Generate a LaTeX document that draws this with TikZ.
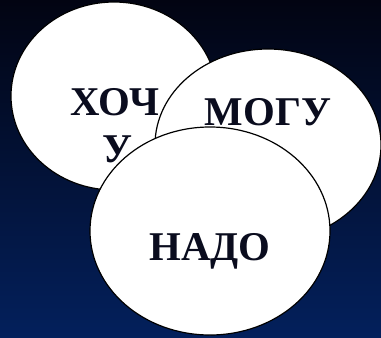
\documentclass[tikz,border=0pt]{standalone}
\usepackage{fontspec}
\setmainfont{Liberation Serif}
\usetikzlibrary{shapes.geometric}
\definecolor{bgtop}{RGB}{2,4,18}
\definecolor{bgbot}{RGB}{3,32,92}
\definecolor{txt}{RGB}{10,12,30}
\tikzset{
  oval/.style={ellipse, draw=black, line width=1.2bp, fill=white, inner sep=0pt},
  word/.style={anchor=base, inner sep=0pt, text=txt, font=\fontsize{41}{47}\selectfont\bfseries}
}
\begin{document}
\begin{tikzpicture}[x=1bp,y=-1bp]
\shade[top color=bgtop, bottom color=bgbot] (0,0) rectangle (381,338);
\useasboundingbox (0,0) rectangle (381,338);
\node[oval, minimum width=206bp, minimum height=188bp] (hochu) at (114,96) {};
\node[oval, minimum width=226bp, minimum height=192bp] (mogu) at (268,145) {};
\node[oval, minimum width=240bp, minimum height=208bp] (nado) at (210,231) {};
\node[word] (t1) at (115,115) {ХОЧ};
\node[word] (t2) at (117,162) {У};
\node[word] (t3) at (268,125) {МОГУ};
\node[word] (t4) at (210,260) {НАДО};
\end{tikzpicture}
\end{document}
